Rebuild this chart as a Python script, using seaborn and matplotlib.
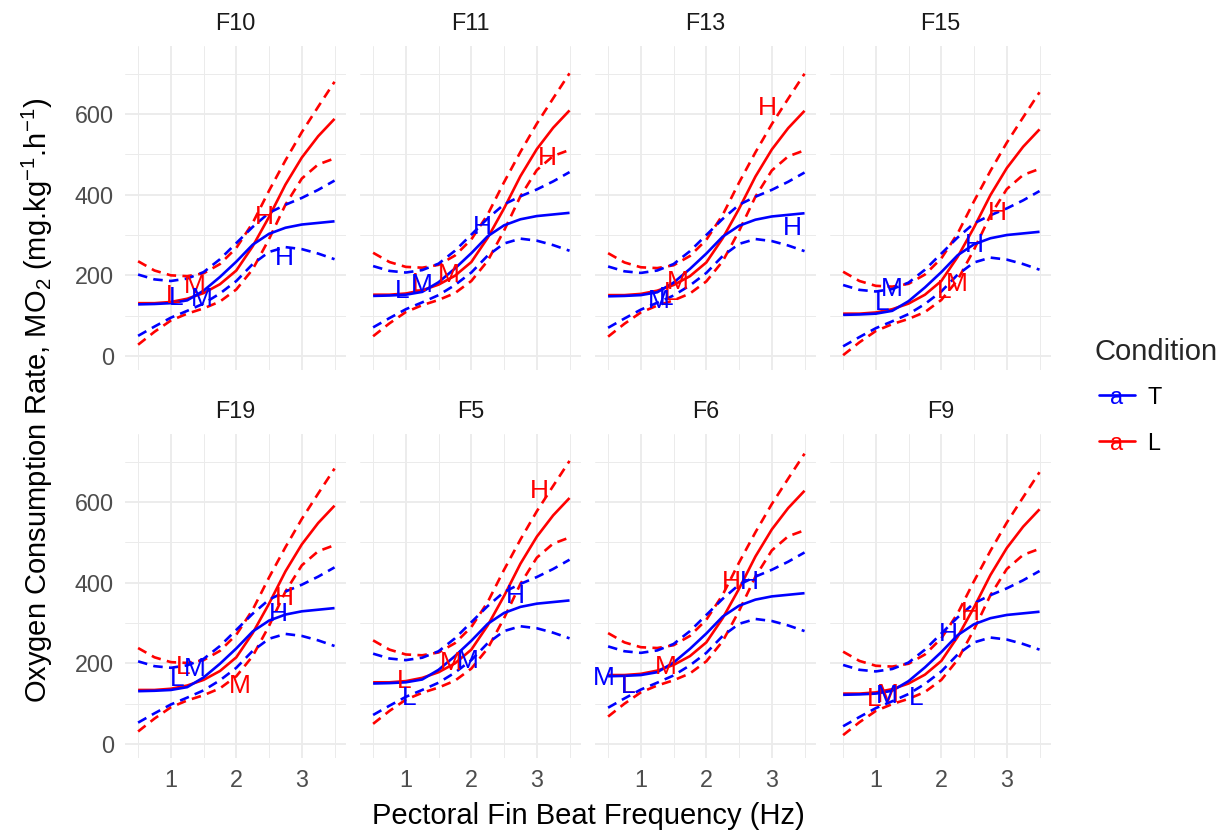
import matplotlib
matplotlib.use("Agg")
import matplotlib.pyplot as plt
from matplotlib.lines import Line2D
import numpy as np
import pandas as pd
import seaborn as sns

# ---------------- data ----------------
X_GRID = [0.5, 0.75, 1.0, 1.25, 1.5, 1.75, 2.0, 2.25, 2.5, 2.75, 3.0, 3.25, 3.5]
PANELS = ["F10", "F11", "F13", "F15", "F19", "F5", "F6", "F9"]

T_FIT = {
    "F10": [128, 129, 131, 138, 162, 196, 234, 276, 303, 318, 326, 330, 334],
    "F11": [149, 150, 152, 159, 183, 217, 255, 297, 324, 339, 347, 351, 355],
    "F13": [148, 149, 151, 158, 182, 216, 254, 296, 323, 338, 346, 350, 354],
    "F15": [102, 103, 105, 112, 136, 170, 208, 250, 277, 292, 300, 304, 308],
    "F19": [131, 132, 134, 141, 165, 199, 237, 279, 306, 321, 329, 333, 337],
    "F5":  [150, 151, 153, 160, 184, 218, 256, 298, 325, 340, 348, 352, 356],
    "F6":  [168, 169, 171, 178, 202, 236, 274, 316, 343, 358, 366, 370, 374],
    "F9":  [122, 123, 125, 132, 156, 190, 228, 270, 297, 312, 320, 324, 328],
}
T_UPPER = {
    "F10": [202, 190, 186, 192, 208, 240, 280, 320, 355, 375, 392, 412, 435],
    "F11": [223, 211, 207, 213, 229, 261, 301, 341, 376, 396, 413, 433, 456],
    "F13": [222, 210, 206, 212, 228, 260, 300, 340, 375, 395, 412, 432, 455],
    "F15": [176, 164, 160, 166, 182, 214, 254, 294, 329, 349, 366, 386, 409],
    "F19": [205, 193, 189, 195, 211, 243, 283, 323, 358, 378, 395, 415, 438],
    "F5":  [224, 212, 208, 214, 230, 262, 302, 342, 377, 397, 414, 434, 457],
    "F6":  [242, 230, 226, 232, 248, 280, 320, 360, 395, 415, 432, 452, 475],
    "F9":  [196, 184, 180, 186, 202, 234, 274, 314, 349, 369, 386, 406, 429],
}
T_LOWER = {
    "F10": [50, 73, 95, 112, 130, 155, 186, 228, 258, 270, 265, 254, 240],
    "F11": [71, 94, 116, 133, 151, 176, 207, 249, 279, 291, 286, 275, 261],
    "F13": [70, 93, 115, 132, 150, 175, 206, 248, 278, 290, 285, 274, 260],
    "F15": [24, 47, 69, 86, 104, 129, 160, 202, 232, 244, 239, 228, 214],
    "F19": [53, 76, 98, 115, 133, 158, 189, 231, 261, 273, 268, 257, 243],
    "F5":  [72, 95, 117, 134, 152, 177, 208, 250, 280, 292, 287, 276, 262],
    "F6":  [90, 113, 135, 152, 170, 195, 226, 268, 298, 310, 305, 294, 280],
    "F9":  [44, 67, 89, 106, 124, 149, 180, 222, 252, 264, 259, 248, 234],
}
L_FIT = {
    "F10": [131, 131, 134, 142, 156, 178, 212, 272, 345, 425, 492, 545, 588],
    "F11": [152, 152, 155, 163, 177, 199, 233, 293, 366, 446, 513, 566, 609],
    "F13": [151, 151, 154, 162, 176, 198, 232, 292, 365, 445, 512, 565, 608],
    "F15": [105, 105, 108, 116, 130, 152, 186, 246, 319, 399, 466, 519, 562],
    "F19": [134, 134, 137, 145, 159, 181, 215, 275, 348, 428, 495, 548, 591],
    "F5":  [153, 153, 156, 164, 178, 200, 234, 294, 367, 447, 514, 567, 610],
    "F6":  [171, 171, 174, 182, 196, 218, 252, 312, 385, 465, 532, 585, 628],
    "F9":  [125, 125, 128, 136, 150, 172, 206, 266, 339, 419, 486, 539, 582],
}
L_UPPER = {
    "F10": [235, 212, 200, 198, 205, 228, 268, 330, 410, 485, 555, 618, 680],
    "F11": [256, 233, 221, 219, 226, 249, 289, 351, 431, 506, 576, 639, 701],
    "F13": [255, 232, 220, 218, 225, 248, 288, 350, 430, 505, 575, 638, 700],
    "F15": [209, 186, 174, 172, 179, 202, 242, 304, 384, 459, 529, 592, 654],
    "F19": [238, 215, 203, 201, 208, 231, 271, 333, 413, 488, 558, 621, 683],
    "F5":  [257, 234, 222, 220, 227, 250, 290, 352, 432, 507, 577, 640, 702],
    "F6":  [275, 252, 240, 238, 245, 268, 308, 370, 450, 525, 595, 658, 720],
    "F9":  [229, 206, 194, 192, 199, 222, 262, 324, 404, 479, 549, 612, 674],
}
L_LOWER = {
    "F10": [28, 60, 88, 105, 118, 135, 165, 215, 290, 375, 440, 475, 490],
    "F11": [49, 81, 109, 126, 139, 156, 186, 236, 311, 396, 461, 496, 511],
    "F13": [48, 80, 108, 125, 138, 155, 185, 235, 310, 395, 460, 495, 510],
    "F15": [2, 34, 62, 79, 92, 109, 139, 189, 264, 349, 414, 449, 464],
    "F19": [31, 63, 91, 108, 121, 138, 168, 218, 293, 378, 443, 478, 493],
    "F5":  [50, 82, 110, 127, 140, 157, 187, 237, 312, 397, 462, 497, 512],
    "F6":  [68, 100, 128, 145, 158, 175, 205, 255, 330, 415, 480, 515, 530],
    "F9":  [22, 54, 82, 99, 112, 129, 159, 209, 284, 369, 434, 469, 484],
}

# observed points, drawn as letters (L / M / H speed level)
PT_PANEL = ["F10", "F10", "F10", "F10", "F10", "F10",
            "F11", "F11", "F11", "F11", "F11", "F11",
            "F13", "F13", "F13", "F13", "F13", "F13",
            "F15", "F15", "F15", "F15", "F15", "F15",
            "F19", "F19", "F19", "F19", "F19", "F19",
            "F5", "F5", "F5", "F5", "F5", "F5",
            "F6", "F6", "F6", "F6", "F6", "F6",
            "F9", "F9", "F9", "F9", "F9", "F9"]
PT_COND = ["T", "T", "T", "L", "L", "L"] * 8
PT_TEXT = ["L", "M", "H", "L", "M", "H"] * 8
PT_X = [1.08, 1.47, 2.73, 1.04, 1.37, 2.43,
        0.94, 1.25, 2.17, 1.20, 1.66, 3.16,
        1.39, 1.28, 3.31, 1.47, 1.56, 2.93,
        1.09, 1.24, 2.51, 2.05, 2.23, 2.86,
        1.09, 1.37, 2.64, 1.19, 2.05, 2.73,
        1.05, 1.94, 2.68, 0.98, 1.69, 3.04,
        0.80, 0.44, 2.66, 0.80, 1.38, 2.38,
        1.61, 1.17, 2.11, 0.97, 1.19, 2.44]
PT_Y = [151, 147, 249, 155, 180, 350,
        168, 183, 326, 185, 207, 498,
        151, 142, 323, 163, 189, 622,
        138, 172, 282, 168, 184, 360,
        167, 192, 328, 196, 150, 369,
        121, 212, 374, 163, 208, 634,
        150, 171, 407, 150, 196, 407,
        121, 126, 278, 119, 128, 332]

COND_COLORS = {"T": "#0000FF", "L": "#FF0000"}
COND_ORDER = ["T", "L"]

# ---------------- build tidy tables ----------------
rows = []
for p in PANELS:
    for cond, fit, up, lo in (("T", T_FIT, T_UPPER, T_LOWER), ("L", L_FIT, L_UPPER, L_LOWER)):
        for kind, arr in (("fit", fit), ("upper", up), ("lower", lo)):
            for xv, yv in zip(X_GRID, arr[p]):
                rows.append((p, cond, kind, xv, yv))
curves = pd.DataFrame(rows, columns=["panel", "Condition", "kind", "freq", "mo2"])
points = pd.DataFrame({"panel": PT_PANEL, "Condition": PT_COND, "label": PT_TEXT,
                       "freq": PT_X, "mo2": PT_Y})

# ---------------- style ----------------
sns.set_theme(style="white")
plt.rcParams["font.family"] = ["Liberation Sans", "DejaVu Sans"]
plt.rcParams["mathtext.fontset"] = "custom"
plt.rcParams["mathtext.rm"] = "Liberation Sans"
plt.rcParams["mathtext.it"] = "Liberation Sans:italic"
plt.rcParams["mathtext.bf"] = "Liberation Sans:bold"
plt.rcParams["axes.unicode_minus"] = True

W, H = 1222, 835
fig = plt.figure(figsize=(W / 100, H / 100), dpi=100)
fig.patch.set_facecolor("white")

col_left = [125, 360, 595, 830]
panel_w = 221
row_top = [46, 434]
panel_h = 324
XLIM = (0.3, 3.675)
YLIM = (-34.7, 768.7)
GRID_C = "#EBEBEB"
LW = 1.9

for i, p in enumerate(PANELS):
    r, c = divmod(i, 4)
    left = col_left[c] / W
    bottom = 1 - (row_top[r] + panel_h) / H
    ax = fig.add_axes([left, bottom, panel_w / W, panel_h / H])
    ax.set_facecolor("white")
    sub = curves[curves.panel == p]
    for cond in ["L", "T"]:
        for kind in ["lower", "upper", "fit"]:
            d = sub[(sub.Condition == cond) & (sub.kind == kind)]
            sns.lineplot(data=d, x="freq", y="mo2", ax=ax, color=COND_COLORS[cond],
                         lw=LW, estimator=None, sort=False, legend=False)
            line = ax.lines[-1]
            if kind != "fit":
                line.set_dashes((3.6, 2.4))
            line.set_solid_capstyle("butt")
            line.set_dash_capstyle("butt")
            line.set_solid_joinstyle("round")
    psub = points[points.panel == p]
    for cond in ["L", "T"]:
        for _, rw in psub[psub.Condition == cond].iterrows():
            ax.text(rw.freq, rw.mo2, rw.label, color=COND_COLORS[cond], fontsize=19,
                    ha="center", va="center_baseline", zorder=5)
    ax.set_xlim(*XLIM)
    ax.set_ylim(*YLIM)
    ax.set_xticks([1, 2, 3])
    ax.set_xticks([0.5, 1.5, 2.5, 3.5], minor=True)
    ax.set_yticks([0, 200, 400, 600])
    ax.set_yticks([100, 300, 500, 700], minor=True)
    ax.grid(which="major", color=GRID_C, lw=1.3, zorder=0)
    ax.grid(which="minor", color=GRID_C, lw=0.7, zorder=0)
    ax.set_axisbelow(True)
    for s in ax.spines.values():
        s.set_visible(False)
    ax.tick_params(which="both", length=0, labelsize=16.8, labelcolor="#4D4D4D", pad=8)
    ax.tick_params(labelleft=(c == 0), labelbottom=(r == 1))
    ax.set_xlabel("")
    ax.set_ylabel("")
    # strip label
    fig.text((col_left[c] + panel_w / 2) / W, 1 - (30 + 388 * r) / H, p,
             fontsize=16.8, color="#1A1A1A", ha="center", va="baseline")

# axis titles
fig.text((125 + 1051) / 2 / W, 1 - 824 / H, "Pectoral Fin Beat Frequency (Hz)",
         fontsize=21, ha="center", va="baseline", color="black")
fig.text(37 / W, 1 - 400 / H,
         r"Oxygen Consumption Rate, MO$_2$ (mg.kg$^{-1}$.h$^{-1}$)",
         fontsize=21, rotation=90, ha="center", va="center", color="black")

# legend
fig.text(1095 / W, 1 - 352 / H, "Condition", fontsize=21, ha="left", va="center")
for k, cond in enumerate(COND_ORDER):
    yk = 395 + 46 * k
    fig.add_artist(Line2D([1099 / W, 1135 / W], [1 - yk / H, 1 - yk / H],
                          color=COND_COLORS[cond], lw=LW, transform=fig.transFigure))
    fig.text(1117 / W, 1 - yk / H, "a", color=COND_COLORS[cond], fontsize=17,
             ha="center", va="center_baseline")
    fig.text(1147 / W, 1 - yk / H, cond, color="black", fontsize=16.8,
             ha="left", va="center_baseline")

fig.savefig("out.png", dpi=100, facecolor="white")
